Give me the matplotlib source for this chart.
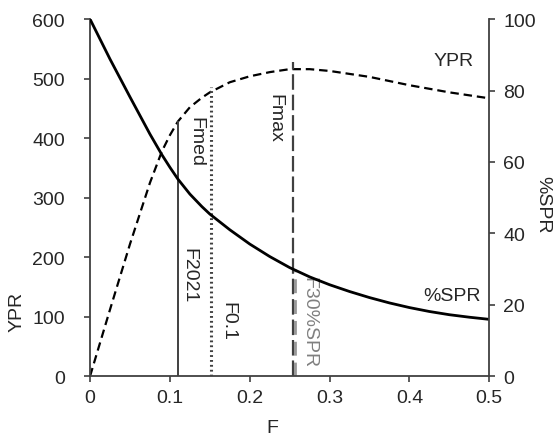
import matplotlib
matplotlib.use("Agg")
import matplotlib.pyplot as plt

plt.rcParams['font.family'] = ['Liberation Sans', 'DejaVu Sans']

F = [0, 0.025, 0.05, 0.075, 0.09, 0.1, 0.11, 0.125, 0.14, 0.15, 0.175, 0.2, 0.225, 0.25,
     0.275, 0.3, 0.325, 0.35, 0.375, 0.4, 0.425, 0.45, 0.475, 0.5]
YPR = [0, 112, 222, 325, 378, 405, 428, 452, 468, 477, 494, 504, 511, 516,
       516, 513, 508, 503, 496, 489, 483, 477, 472, 467]
SPR = [100, 88.8, 78.2, 67.8, 62.0, 58.5, 55.2, 51.0, 47.5, 45.4, 41.0, 37.0, 33.5, 30.4,
       27.8, 25.6, 23.7, 22.0, 20.5, 19.2, 18.1, 17.2, 16.5, 15.9]

# reference points
F2021, F2021_top = 0.11, 428
F01, F01_top = 0.152, 486
Fmax, Fmax_top = 0.254, 528
F30, F30_top = 0.257, 180

xticks = [0, 0.1, 0.2, 0.3, 0.4, 0.5]
xticklabels = ['0', '0.1', '0.2', '0.3', '0.4', '0.5']
yticks = [0, 100, 200, 300, 400, 500, 600]
y2ticks = [0, 20, 40, 60, 80, 100]

fig = plt.figure(figsize=(5.56, 4.39), dpi=100)
ax = fig.add_axes([0.162, 0.141, 0.718, 0.813])
ax2 = ax.twinx()

spc = '#404040'
tc = '#262626'

ax.plot(F, YPR, color='black', lw=1.6, ls=(0, (3.8, 2.2)))
ax2.plot(F, SPR, color='black', lw=2.0)

ax.plot([F2021, F2021], [0, F2021_top], color='#404040', lw=1.4)
ax.plot([F01, F01], [0, F01_top], color='#404040', lw=2.2, ls=(0, (0.6, 1.0)))
ax.plot([F30, F30], [0, F30_top], color='#999999', lw=2.0, ls=(0, (5, 2.5)))
ax.plot([Fmax, Fmax], [0, Fmax_top], color='#404040', lw=1.6, ls=(0, (7, 2.2)))

fs = 14
ax.text(0.132, 395, 'Fmed', rotation=270, ha='center', va='center', fontsize=fs, color=tc)
ax.text(0.124, 170, 'F2021', rotation=270, ha='center', va='center', fontsize=fs, color=tc)
ax.text(0.173, 94, 'F0.1', rotation=270, ha='center', va='center', fontsize=fs, color=tc)
ax.text(0.231, 435, 'Fmax', rotation=270, ha='center', va='center', fontsize=fs, color=tc)
ax.text(0.274, 92, 'F30%SPR', rotation=270, ha='center', va='center', fontsize=fs, color='#808080')
ax.text(0.455, 530, 'YPR', ha='center', va='center', fontsize=fs, color=tc)
ax.text(0.453, 136, '%SPR', ha='center', va='center', fontsize=fs, color=tc)

ax.set_xlim(0, 0.5)
ax.set_ylim(0, 600)
ax2.set_ylim(0, 100)
ax.set_xticks(xticks)
ax.set_xticklabels(xticklabels)
ax.set_yticks(yticks)
ax2.set_yticks(y2ticks)

for a in (ax, ax2):
    a.spines['top'].set_visible(False)
    for s in a.spines.values():
        s.set_color(spc)
        s.set_linewidth(1.3)
    a.tick_params(direction='out', length=4, width=1.2, color=spc, labelsize=fs, labelcolor=tc)
ax.tick_params(axis='y', pad=14)
ax.tick_params(axis='x', pad=5)
ax2.tick_params(axis='y', pad=6)
ax.spines['right'].set_visible(False)
ax2.spines['left'].set_visible(False)
ax2.spines['bottom'].set_visible(False)

ax.set_xlabel('F', fontsize=fs, color=tc, va='center', ha='center')
ax.xaxis.set_label_coords(0.456, -0.143)
ax.set_ylabel('YPR', fontsize=fs, color=tc, va='center', ha='center')
ax.yaxis.set_label_coords(-0.183, 0.182)
ax2.set_ylabel('%SPR', fontsize=fs, color=tc, rotation=270, va='center', ha='center')
ax2.yaxis.set_label_coords(1.135, 0.482)

fig.savefig('out.png', dpi=100)
